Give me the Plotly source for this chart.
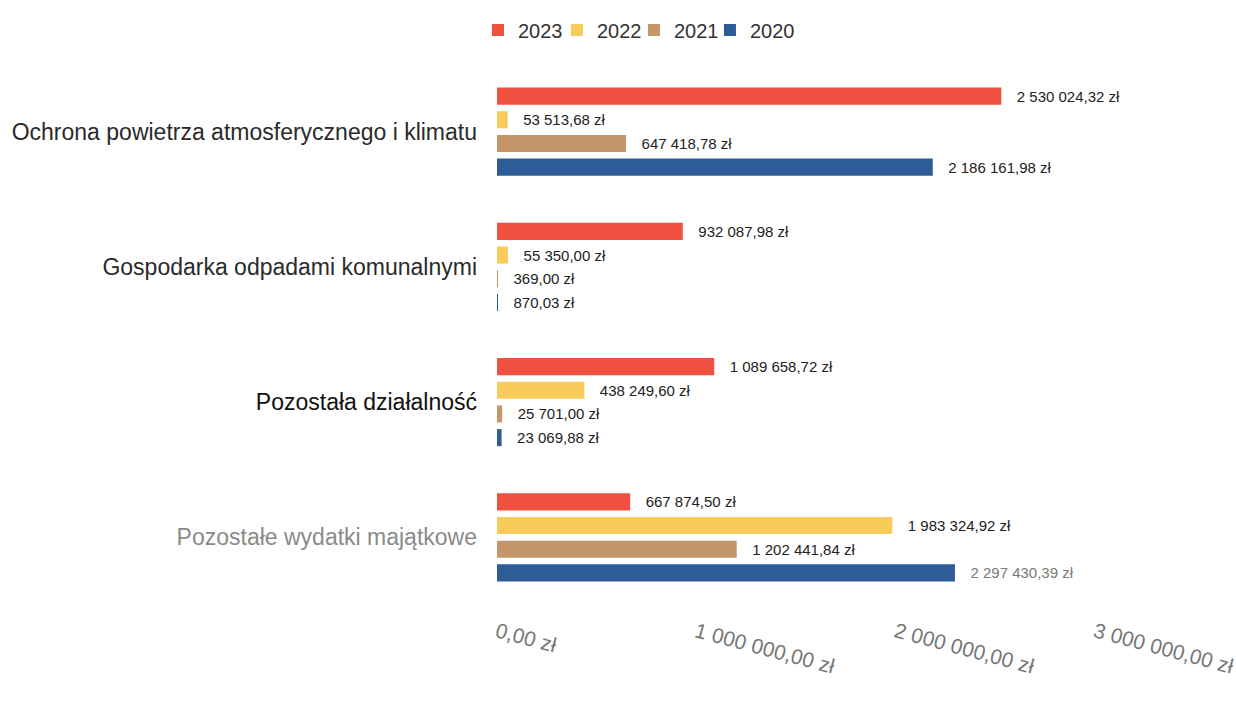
import plotly.graph_objects as go

# Categories (top to bottom) and yearly capital expenditure in PLN
categories = [
    "Ochrona powietrza atmosferycznego i klimatu",
    "Gospodarka odpadami komunalnymi",
    "Pozostała działalność",
    "Pozostałe wydatki majątkowe",
]
years = ["2023", "2022", "2021", "2020"]
values_2023 = [2530024.32, 932087.98, 1089658.72, 667874.50]
values_2022 = [53513.68, 55350.00, 438249.60, 1983324.92]
values_2021 = [647418.78, 369.00, 25701.00, 1202441.84]
values_2020 = [2186161.98, 870.03, 23069.88, 2297430.39]
x_ticks = [0, 1000000, 2000000, 3000000]

series = [values_2023, values_2022, values_2021, values_2020]
colors = ["#F0503F", "#F9CB5B", "#C4966A", "#2D5C97"]
category_colors = ["#2a2a2a", "#2a2a2a", "#111111", "#8a8a8a"]

# one compact legend box per year, laid out in a row above the bars
legend_ids = ["legend", "legend2", "legend3", "legend4"]
legend_x = [0.3867, 0.4506, 0.5129, 0.5744]  # fraction of the full page width

FONT = "Liberation Sans, Arial, sans-serif"


def pln(v):
    return f"{v:,.2f}".replace(",", " ").replace(".", ",") + " zł"


fig = go.Figure()
for name, vals, col, leg in zip(years, series, colors, legend_ids):
    label_colors = ["#222222"] * len(vals)
    if name == "2020":
        label_colors[-1] = "#7a7a7a"
    fig.add_trace(go.Bar(
        name=name,
        y=categories,
        x=vals,
        orientation="h",
        marker=dict(color=col, line=dict(width=0)),
        text=["\u00a0\u00a0\u00a0" + pln(v) for v in vals],
        textposition="outside",
        textfont=dict(family=FONT, size=15, color=label_colors),
        constraintext="none",
        cliponaxis=False,
        legend=leg,
        showlegend=True,
    ))

legend_style = dict(
    orientation="h",
    xref="container",
    yref="container",
    xanchor="left",
    y=1 - 30 / 707,
    yanchor="middle",
    font=dict(family=FONT, size=20, color="#333333"),
    bgcolor="rgba(0,0,0,0)",
    itemwidth=30,
)
legends = {leg: dict(legend_style, x=lx) for leg, lx in zip(legend_ids, legend_x)}

fig.update_layout(
    width=1236,
    height=707,
    showlegend=True,
    barmode="group",
    bargap=0.30,
    bargroupgap=0.28,
    paper_bgcolor="white",
    plot_bgcolor="white",
    margin=dict(l=497, r=141, t=64, b=102, autoexpand=False),
    font=dict(family=FONT),
    xaxis=dict(
        range=[0, 3000000],
        tickvals=x_ticks,
        ticktext=[pln(v) for v in x_ticks],
        tickangle=15,
        tickfont=dict(family=FONT, size=21, color="#777777"),
        ticklabeloverflow="allow",
        showgrid=False,
        zeroline=False,
        showline=False,
        ticks="",
        ticklabelstandoff=10,
    ),
    yaxis=dict(
        autorange="reversed",
        tickvals=categories,
        ticktext=[f"<span style='color:{c}'>{t}</span>" for t, c in zip(categories, category_colors)],
        tickfont=dict(family=FONT, size=23, color="#2a2a2a"),
        showgrid=False,
        zeroline=False,
        showline=False,
        ticks="",
        ticklabelstandoff=19,
    ),
    **legends,
)

fig.write_html("out.html")
